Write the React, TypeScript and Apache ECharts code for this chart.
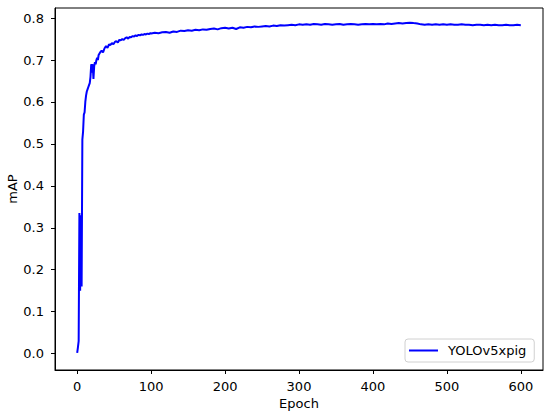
import React, { useEffect, useRef } from "react";
import * as echarts from "echarts";

// mAP for epochs 0..30 (every epoch)
const earlyValues = [
  0.002, 0.015, 0.03, 0.335, 0.15, 0.33, 0.16, 0.51, 0.53, 0.57, 0.575,
  0.6, 0.615, 0.625, 0.63, 0.635, 0.64, 0.645, 0.66, 0.69, 0.67, 0.69,
  0.655, 0.685, 0.695, 0.69, 0.7, 0.705, 0.7, 0.712, 0.715,
];
// mAP for epochs 31..99 (every 2 epochs)
const midValues = [
  0.718, 0.722, 0.718, 0.728, 0.733, 0.729, 0.737, 0.736, 0.74, 0.738, 0.743,
  0.745, 0.742, 0.748, 0.747, 0.75, 0.748, 0.752, 0.754, 0.751, 0.755, 0.754,
  0.757, 0.756, 0.759, 0.757, 0.76, 0.759, 0.761, 0.76, 0.762, 0.761, 0.763,
  0.762, 0.764,
];
// mAP for epochs 100..600 (every 5 epochs)
const lateValues = [
  0.763, 0.765, 0.764, 0.766, 0.767, 0.765, 0.768, 0.767, 0.77, 0.769,
  0.771, 0.77, 0.772, 0.771, 0.773, 0.772, 0.774, 0.775, 0.773, 0.776,
  0.777, 0.775, 0.777, 0.774, 0.778, 0.777, 0.779, 0.778, 0.78, 0.779,
  0.78, 0.781, 0.78, 0.782, 0.781, 0.783, 0.782, 0.783, 0.784, 0.783,
  0.785, 0.784, 0.785, 0.784, 0.786, 0.785, 0.784, 0.786, 0.785, 0.784,
  0.785, 0.786, 0.784, 0.785, 0.786, 0.785, 0.784, 0.785, 0.786, 0.785,
  0.786, 0.785, 0.786, 0.785, 0.787, 0.786, 0.787, 0.788, 0.787, 0.788,
  0.789, 0.788, 0.787, 0.785, 0.784, 0.785, 0.784, 0.785, 0.784, 0.785,
  0.784, 0.785, 0.784, 0.784, 0.785, 0.784, 0.784, 0.783, 0.784, 0.784,
  0.783, 0.784, 0.783, 0.784, 0.783, 0.783, 0.784, 0.783, 0.783, 0.784,
  0.783,
];

const xTicks = [0, 100, 200, 300, 400, 500, 600];
const yTicks = [0, 0.1, 0.2, 0.3, 0.4, 0.5, 0.6, 0.7, 0.8];
const seriesName = "YOLOv5xpig";

const FONT = "DejaVu Sans";
const FS = 13;

export default function App() {
  const ref = useRef<HTMLDivElement>(null);
  useEffect(() => {
    if (!ref.current) return;
    const chart = echarts.init(ref.current, undefined, { renderer: "svg" });
    const data: [number, number][] = [];
    earlyValues.forEach((v, i) => data.push([i, v]));
    midValues.forEach((v, i) => data.push([31 + i * 2, v]));
    lateValues.forEach((v, i) => data.push([100 + i * 5, v]));

    chart.setOption({
      animation: false,
      backgroundColor: "#ffffff",
      grid: {
        left: 55,
        top: 8,
        right: 7,
        bottom: 47,
        containLabel: false,
        outerBoundsMode: "none",
        show: true,
        borderColor: "#000",
        borderWidth: 1,
        backgroundColor: "transparent",
      },
      xAxis: {
        type: "value",
        min: -30,
        max: 630,
        name: "Epoch",
        nameLocation: "middle",
        nameGap: 27,
        nameMoveOverlap: false,
        nameTextStyle: { fontFamily: FONT, fontSize: FS, color: "#000" },
        axisLine: { show: true, onZero: false, lineStyle: { color: "#000", width: 1 } },
        axisTick: {
          show: true,
          length: 4,
          inside: false,
          lineStyle: { color: "#000", width: 1 },
          customValues: xTicks,
        },
        axisLabel: {
          fontFamily: FONT,
          fontSize: FS,
          color: "#000",
          margin: 10,
          customValues: xTicks,
          formatter: (v: number) => String(Math.round(v)),
        },
        splitLine: { show: false },
      },
      yAxis: {
        type: "value",
        min: -0.039,
        max: 0.824,
        name: "mAP",
        nameLocation: "middle",
        nameGap: 36,
        nameRotate: 90,
        nameMoveOverlap: false,
        nameTextStyle: { fontFamily: FONT, fontSize: FS, color: "#000" },
        axisLine: { show: true, onZero: false, lineStyle: { color: "#000", width: 1 } },
        axisTick: {
          show: true,
          length: 4,
          inside: false,
          lineStyle: { color: "#000", width: 1 },
          customValues: yTicks,
        },
        axisLabel: {
          fontFamily: FONT,
          fontSize: FS,
          color: "#000",
          margin: 11,
          customValues: yTicks,
          formatter: (v: number) => v.toFixed(1),
        },
        splitLine: { show: false },
      },
      legend: {
        show: true,
        data: [seriesName],
        left: 405,
        top: 339,
        orient: "vertical",
        padding: [5, 8, 5, 4],
        backgroundColor: "rgba(255,255,255,0.8)",
        borderColor: "#d0d0d0",
        borderWidth: 1,
        borderRadius: 3,
        itemWidth: 29,
        itemHeight: 2,
        icon: "rect",
        textStyle: {
          fontFamily: FONT,
          fontSize: FS,
          color: "#000",
          padding: [0, 0, 0, 5],
        },
      },
      series: [
        {
          name: seriesName,
          type: "line",
          data,
          showSymbol: false,
          symbol: "none",
          lineStyle: { color: "#0000ff", width: 2 },
          itemStyle: { color: "#0000ff" },
        },
      ],
    });
    return () => chart.dispose();
  }, []);
  return (
    <div
      ref={ref}
      style={{ width: 550, height: 417, position: "absolute", left: 0, top: 0 }}
    />
  );
}
